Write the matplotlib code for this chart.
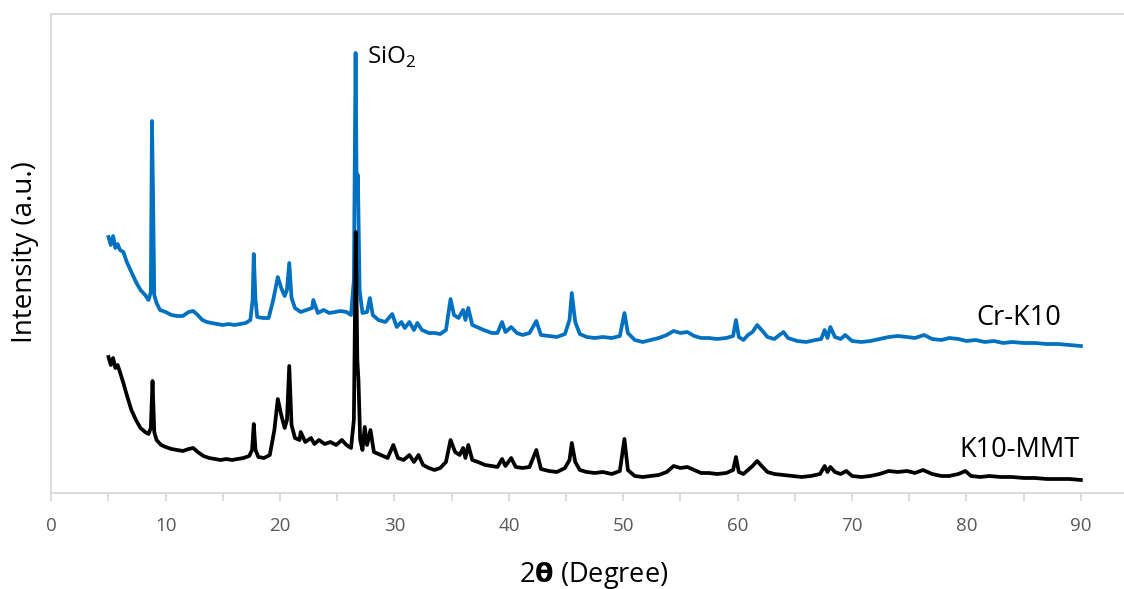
import matplotlib
matplotlib.use("Agg")
import matplotlib.pyplot as plt
from matplotlib.ticker import MultipleLocator

plt.rcParams['font.family'] = ['Open Sans', 'DejaVu Sans']
plt.rcParams['mathtext.fontset'] = 'custom'
plt.rcParams['mathtext.rm'] = 'Open Sans'
plt.rcParams['mathtext.bf'] = 'DejaVu Sans:bold'

# 2-theta positions (degrees) and intensities (a.u.)
cr_x = [5.0, 5.2, 5.4, 5.6, 5.8, 6.0, 6.3, 6.6, 7.0, 7.4, 7.8, 8.2, 8.5, 8.7, 8.8, 8.9, 9.0, 9.2, 9.5,
        10.0, 10.5, 11.0, 11.5, 12.0, 12.4, 12.8, 13.2, 13.6, 14.0, 14.5, 15.0, 15.5, 16.0, 16.5, 17.0,
        17.4, 17.6, 17.7, 17.85, 18.0, 18.5, 19.0, 19.4, 19.8, 20.1, 20.4, 20.6, 20.8, 21.0, 21.3, 21.8,
        22.3, 22.8, 22.9, 23.3, 23.8, 24.3, 24.8, 25.3, 25.8, 26.2, 26.45, 26.6, 26.7, 26.8, 26.95, 27.2,
        27.6, 27.85, 28.1, 28.6, 29.2, 29.8, 30.2, 30.6, 30.9, 31.3, 31.7, 32.0, 32.4, 33.0, 33.5, 34.0,
        34.5, 34.9, 35.2, 35.6, 36.0, 36.2, 36.45, 36.8, 37.2, 37.8, 38.5, 39.0, 39.4, 39.7, 40.2, 40.7,
        41.2, 41.8, 42.4, 42.8, 43.5, 44.2, 44.9, 45.3, 45.5, 45.8, 46.2, 46.8, 47.5, 48.2, 49.0, 49.7,
        50.1, 50.4, 51.0, 51.7, 52.4, 53.1, 53.8, 54.4, 55.0, 55.6, 56.2, 56.8, 57.5, 58.2, 59.0, 59.6,
        59.85, 60.1, 60.5, 60.9, 61.3, 61.7, 62.1, 62.6, 63.2, 64.0, 64.4, 65.2, 66.0, 66.8, 67.3, 67.6,
        67.85, 68.1, 68.5, 69.0, 69.4, 70.0, 70.8, 71.6, 72.4, 73.2, 74.0, 74.8, 75.5, 76.3, 77.0, 77.8,
        78.5, 79.3, 80.0, 80.8, 81.6, 82.4, 83.2, 84.0, 85.0, 86.0, 87.0, 88.0, 89.0, 90.0]
cr_y = [256, 248, 257, 245, 249, 243, 241, 231, 221, 211, 203, 198, 193, 201, 372, 293, 198, 190, 183,
        181, 178, 177, 177, 181, 182, 178, 173, 171, 170, 169, 168, 169, 168, 169, 170,
        173, 193, 239, 193, 176, 175, 175, 193, 216, 205, 197, 203, 230, 195, 185, 181,
        183, 185, 193, 180, 183, 180, 181, 182, 181, 178, 213, 440, 293, 318, 203, 180,
        181, 195, 178, 173, 171, 179, 166, 171, 165, 171, 163, 170, 163, 160, 160, 159,
        163, 194, 178, 175, 183, 173, 185, 168, 166, 163, 160, 160, 171, 161, 166, 160,
        158, 160, 172, 158, 157, 156, 159, 173, 200, 171, 159, 156, 155, 156, 155, 157,
        180, 160, 153, 151, 153, 155, 158, 162, 160, 161, 157, 155, 155, 154, 155, 157,
        173, 156, 153, 158, 161, 168, 163, 156, 154, 161, 155, 152, 151, 153, 154, 163,
        155, 166, 156, 154, 158, 152, 151, 152, 154, 156, 157, 156, 155, 158, 154, 153,
        155, 154, 152, 153, 151, 152, 150, 151, 150, 150, 149, 149, 148, 147]

k10_x = [5.0, 5.2, 5.4, 5.6, 5.8, 6.0, 6.3, 6.6, 7.0, 7.4, 7.8, 8.2, 8.5, 8.7, 8.85, 9.0, 9.2, 9.6,
         10.0, 10.5, 11.0, 11.5, 12.0, 12.4, 12.8, 13.3, 13.8, 14.3, 14.8, 15.3, 15.8, 16.3, 16.8, 17.3,
         17.55, 17.7, 17.85, 18.1, 18.6, 19.1, 19.5, 19.8, 20.1, 20.4, 20.6, 20.8, 21.0, 21.3, 21.7, 21.8,
         22.2, 22.7, 23.0, 23.4, 23.9, 24.4, 24.9, 25.4, 25.8, 26.2, 26.45, 26.62, 26.75, 26.85, 27.0,
         27.2, 27.4, 27.6, 27.9, 28.2, 28.8, 29.4, 29.9, 30.3, 30.8, 31.3, 31.7, 32.1, 32.5, 33.0, 33.5,
         34.0, 34.5, 34.9, 35.3, 35.7, 36.0, 36.2, 36.45, 36.8, 37.3, 37.9, 38.5, 39.0, 39.4, 39.7, 40.2,
         40.6, 41.2, 41.8, 42.4, 42.8, 43.5, 44.2, 44.9, 45.3, 45.5, 45.8, 46.2, 46.8, 47.5, 48.2, 49.0,
         49.7, 50.1, 50.4, 51.0, 51.7, 52.4, 53.1, 53.8, 54.4, 55.0, 55.6, 56.2, 56.8, 57.5, 58.2, 59.0,
         59.6, 59.85, 60.1, 60.5, 60.9, 61.3, 61.7, 62.1, 62.6, 63.2, 64.0, 64.8, 65.6, 66.4, 67.2, 67.6,
         67.85, 68.1, 68.5, 69.0, 69.5, 70.0, 70.8, 71.6, 72.4, 73.2, 74.0, 74.8, 75.5, 76.2, 77.0, 77.8,
         78.5, 79.3, 79.9, 80.4, 81.2, 82.0, 83.0, 84.0, 85.0, 86.0, 87.0, 88.0, 89.0, 90.0]
k10_y = [136, 128, 135, 125, 128, 121, 110, 98, 83, 73, 65, 61, 59, 65, 112, 61, 53, 48,
         46, 44, 43, 42, 44, 45, 41, 37, 35, 34, 33, 34, 33, 34, 35, 37,
         43, 69, 43, 36, 35, 38, 63, 94, 78, 65, 73, 127, 68, 55, 53, 61,
         51, 55, 49, 53, 49, 51, 48, 53, 48, 45, 73, 261, 133, 113, 53,
         43, 66, 48, 63, 41, 38, 35, 48, 35, 33, 38, 31, 38, 28, 25, 23,
         25, 31, 53, 41, 38, 45, 35, 48, 33, 31, 28, 27, 26, 34, 27, 35,
         26, 25, 26, 43, 24, 22, 21, 25, 33, 50, 31, 23, 21, 20, 21, 19,
         22, 54, 23, 17, 16, 17, 18, 21, 27, 25, 26, 23, 20, 20, 19, 20,
         23, 36, 21, 19, 23, 27, 32, 27, 21, 19, 18, 17, 16, 17, 19, 27,
         21, 26, 21, 19, 22, 17, 16, 17, 19, 22, 21, 22, 20, 23, 19, 17,
         17, 19, 22, 17, 16, 17, 16, 16, 15, 15, 14, 14, 14, 13]

series_labels = ["Cr-K10", "K10-MMT"]
peak_label = "SiO$_2$"
x_ticks = [0, 10, 20, 30, 40, 50, 60, 70, 80, 90]

fig = plt.figure(figsize=(11.24, 5.89), dpi=100)
ax = fig.add_axes([0.04564, 0.1630, 0.9567, 0.8132])

ax.plot(cr_x, cr_y, color="#0070C0", lw=2.7, solid_joinstyle="round")
ax.plot(k10_x, k10_y, color="#000000", lw=2.7, solid_joinstyle="round")

ax.set_xlim(0, 94)
ax.set_ylim(0, 479)
ax.set_xticks(x_ticks)
ax.xaxis.set_minor_locator(MultipleLocator(5))
ax.set_yticks([])

ax.spines["right"].set_visible(False)
for s in ["left", "top", "bottom"]:
    ax.spines[s].set_color("#d9d9d9")
    ax.spines[s].set_linewidth(1.3)

ax.tick_params(axis="x", which="both", direction="out", length=6, width=1.3,
               color="#d9d9d9", labelsize=13.5, labelcolor="#595959", pad=11)

ax.text(84.6, 175, series_labels[0], fontsize=19.5, ha="center", va="center", color="#000000")
ax.text(84.6, 43, series_labels[1], fontsize=19.5, ha="center", va="center", color="#000000")
ax.text(27.6, 436, peak_label, fontsize=17.5, ha="left", va="center", color="#000000")

fig.text(25 / 1124, 1 - 252 / 589, "Intensity (a.u.)", rotation=90, fontsize=20,
         ha="center", va="center", color="#000000")
fig.text(594 / 1124, 7 / 589, r"2$\mathbf{θ}$ (Degree)", fontsize=19.5,
         ha="center", va="baseline", color="#000000")

fig.savefig("out.png", dpi=100)
